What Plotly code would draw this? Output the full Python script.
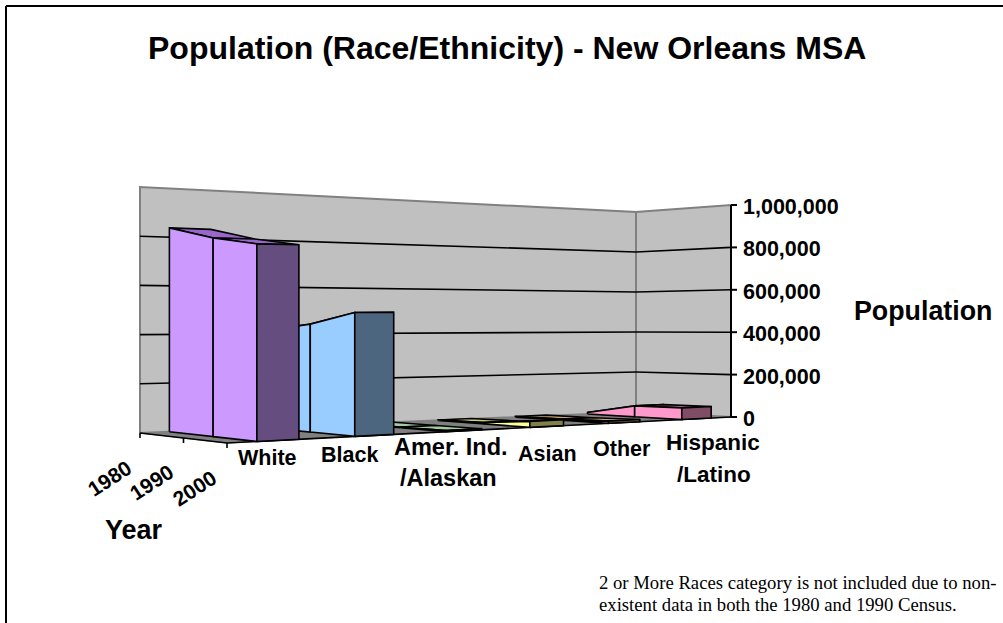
import plotly.graph_objects as go

categories = [["White"], ["Black"], ["Amer. Ind.", "/Alaskan"], ["Asian"], ["Other"], ["Hispanic", "/Latino"]]
years = ["1980", "1990", "2000"]
white = [838000, 797000, 774000]
black = [415000, 449000, 503000]
amer_ind = [2000, 3000, 5000]
asian = [2000, 6000, 26000]
other = [3000, 5000, 10000]
hispanic = [8000, 52000, 54000]
series = [white, black, amer_ind, asian, other, hispanic]
value_ticks = [0, 200000, 400000, 600000, 800000, 1000000]

light = ["#CC99FF", "#99CCFF", "#CCFFCC", "#FFFF99", "#FFCC99", "#FF99CC"]
dark = ["#664D80", "#4D6680", "#668066", "#80804D", "#806650", "#804D66"]
mid = ["#9966CC", "#7AA3CC", "#A3CCA3", "#CCCC7A", "#CCA37A", "#CC7AA3"]

# Projection of the 3D box onto the page
REAR_L, REAR_R = (140, 433), (636, 412)
FRONT_L, FRONT_R = (227, 443), (731, 417)
H_REAR_L, H_REAR_R, H_FRONT_L, H_FRONT_R = 246, 200, 258, 212
PERSP = 0.24
BAR_MARGIN, BAR_FRAC = 0.29, 0.42


def lerp(a, b, t):
    return a + (b - a) * t


def warp(u):
    return (1 + PERSP) * u / (1 + PERSP * u)


def proj(u, d, v):
    """u: 0..1 along categories, d: 0..1 rear to front, v: value."""
    t = warp(u)
    x = lerp(lerp(REAR_L[0], REAR_R[0], t), lerp(FRONT_L[0], FRONT_R[0], t), d)
    y = lerp(lerp(REAR_L[1], REAR_R[1], t), lerp(FRONT_L[1], FRONT_R[1], t), d)
    h = lerp(lerp(H_REAR_L, H_REAR_R, t), lerp(H_FRONT_L, H_FRONT_R, t), d)
    return x, y - h * v / 1e6


fig = go.Figure()


def poly(points, fill, line="black", width=1.6):
    xs = [p[0] for p in points] + [points[0][0]]
    ys = [p[1] for p in points] + [points[0][1]]
    fig.add_trace(go.Scatter(x=xs, y=ys, mode="lines", fill="toself", fillcolor=fill,
                             line=dict(color=line, width=width), hoverinfo="skip",
                             showlegend=False))


def segment(a, b, color="black", width=1.6):
    fig.add_trace(go.Scatter(x=[a[0], b[0]], y=[a[1], b[1]], mode="lines",
                             line=dict(color=color, width=width), hoverinfo="skip",
                             showlegend=False))


WALL_GREY, EDGE_GREY = "#C0C0C0", "#808080"
# floor
poly([proj(0, 0, 0), proj(1, 0, 0), proj(1, 1, 0), proj(0, 1, 0)], EDGE_GREY, EDGE_GREY, 1)
# back wall and side wall
poly([proj(0, 0, 0), proj(1, 0, 0), proj(1, 0, 1e6), proj(0, 0, 1e6)], WALL_GREY, EDGE_GREY, 2)
poly([proj(1, 0, 0), proj(1, 1, 0), proj(1, 1, 1e6), proj(1, 0, 1e6)], WALL_GREY, EDGE_GREY, 2)
# gridlines
for v in value_ticks[1:-1]:
    segment(proj(0, 0, v), proj(1, 0, v))
    segment(proj(1, 0, v), proj(1, 1, v))
# axes
segment(proj(0, 0, 0), proj(0, 1, 0), "black", 1.6)
segment(proj(0, 1, 0), proj(1, 1, 0), "black", 1.6)
segment(proj(1, 1, 0), proj(1, 1, 1e6), "black", 2)
for v in value_ticks:
    x, y = proj(1, 1, v)
    segment((x, y), (x + 6, y), "black", 2)
for i in range(len(years)):
    x, y = proj(0, i / (len(years) - 1), 0)
    segment((x, y), (x, y + 5), "black", 1.6)

# prisms, farthest first
n = len(categories)
for i in range(n - 1, -1, -1):
    vals = series[i]
    u0 = (i + BAR_MARGIN) / n
    u1 = (i + BAR_MARGIN + BAR_FRAC) / n
    ds = [k / (len(vals) - 1) for k in range(len(vals))]
    for k in range(len(vals) - 1):
        poly([proj(u0, ds[k], vals[k]), proj(u1, ds[k], vals[k]),
              proj(u1, ds[k + 1], vals[k + 1]), proj(u0, ds[k + 1], vals[k + 1])], mid[i])
    for k in range(len(vals) - 1):
        poly([proj(u0, ds[k], 0), proj(u0, ds[k + 1], 0),
              proj(u0, ds[k + 1], vals[k + 1]), proj(u0, ds[k], vals[k])], light[i])
    poly([proj(u0, 1, 0), proj(u1, 1, 0), proj(u1, 1, vals[-1]), proj(u0, 1, vals[-1])], dark[i])

FONT = "Liberation Sans"
SERIF = "Liberation Serif"


def label(text, x, y, size=21.5, family=FONT, bold=True, anchor="center", angle=0, align="center"):
    t = f"<b>{text}</b>" if bold else text
    fig.add_annotation(x=x, y=y, xref="x", yref="y", text=t, showarrow=False, xanchor=anchor,
                       yanchor="middle", textangle=angle, align=align,
                       font=dict(family=family, size=size, color="black"))


label("Population (Race/Ethnicity) - New Orleans MSA", 507, 48, size=32)
label("Population", 922.5, 311, size=26.8)
label("Year", 133.5, 530, size=27)

for v in value_ticks:
    x, y = proj(1, 1, v)
    label(f"{v:,}", x + 10, y + 2, anchor="left")

cat_label_pos = [[(267, 458)], [(349, 455)], [(451, 447), (448.5, 478)], [(547, 454)],
                 [(622, 449)], [(713, 442), (713.5, 474)]]
cat_label_size = [21.5, 21.5, 23.5, 21.5, 21.5, 22.5]
for lines, spots, sz in zip(categories, cat_label_pos, cat_label_size):
    for text, (x, y) in zip(lines, spots):
        label(text, x, y, size=sz)

year_label_pos = [(109, 478), (151, 482), (194, 488)]
for text, (x, y) in zip(years, year_label_pos):
    label(text, x, y, size=21, angle=-33)

label("2 or More Races category is not included due to non-", 597, 582,
      size=18.7, family=SERIF, bold=False, anchor="left")
label("existent data in both the 1980 and 1990 Census.", 597, 604,
      size=18.7, family=SERIF, bold=False, anchor="left")

# chart frame
segment((6, 623), (6, 6), "black", 2)
segment((6, 6), (1003, 6), "black", 2)

fig.update_layout(width=1003, height=623, margin=dict(l=0, r=0, t=0, b=0),
                  paper_bgcolor="white", plot_bgcolor="white", showlegend=False,
                  xaxis=dict(range=[0, 1003], visible=False, fixedrange=True),
                  yaxis=dict(range=[623, 0], visible=False, fixedrange=True))
fig.write_html("out.html", config={"displayModeBar": False},
               post_script="document.body.style.margin='0';document.body.style.overflow='hidden';")
